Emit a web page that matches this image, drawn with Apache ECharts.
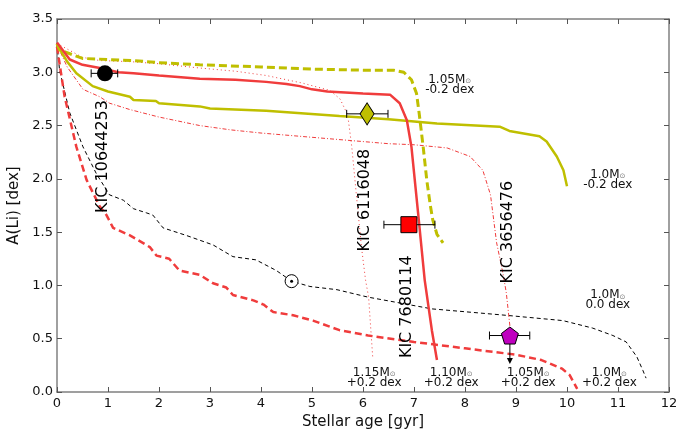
<!DOCTYPE html>
<html>
<head>
<meta charset="utf-8">
<script src="https://cdn.jsdelivr.net/npm/echarts@6/dist/echarts.min.js"></script>
<style>
  html, body { margin: 0; padding: 0; background: #fff; }
  #chart { width: 677px; height: 430px; }
</style>
</head>
<body>
<div id="chart"></div>
<script>
// lithium tracks [age gyr, A(Li)]
var yel105m02 = [[0,3.27],[0.05,3.21],[0.5,3.13],[1.0,3.12],[1.5,3.11],[2,3.09],[2.8,3.07],[4,3.05],[5,3.03],[6,3.02],[6.6,3.02],[6.8,3.0],[6.95,2.93],[7.05,2.8],[7.1,2.62],[7.18,2.3],[7.25,1.99],[7.32,1.75],[7.37,1.61],[7.45,1.48],[7.57,1.40]];
var yel100m02 = [[0,3.26],[0.2,3.1],[0.38,2.99],[0.7,2.87],[1.0,2.82],[1.43,2.77],[1.5,2.74],[1.94,2.73],[2.0,2.71],[2.8,2.68],[3,2.66],[4.1,2.64],[5.54,2.59],[6.5,2.56],[7.45,2.52],[8.68,2.49],[8.87,2.45],[9.46,2.40],[9.6,2.35],[9.8,2.21],[9.93,2.08],[10.0,1.93]];
var red115p02 = [[0,3.27],[0.5,3.14],[0.84,3.11],[1.43,3.10],[2,3.08],[2.8,3.04],[3.5,3.01],[4.1,2.97],[4.8,2.9],[5.35,2.83],[5.55,2.75],[5.7,2.6],[5.78,2.30],[5.88,1.8],[5.97,1.36],[6.05,1.05],[6.11,0.89],[6.19,0.33]];
var red110p02 = [[0,3.28],[0.25,3.12],[0.5,3.07],[0.84,3.04],[1.2,3.0],[1.5,2.99],[2,2.97],[2.8,2.94],[3.5,2.93],[4.1,2.91],[4.5,2.89],[4.76,2.87],[5.0,2.84],[5.3,2.82],[6.0,2.80],[6.53,2.79],[6.72,2.71],[6.86,2.55],[6.95,2.3],[7.08,1.68],[7.21,1.05],[7.35,0.58],[7.45,0.3]];
var red105p02 = [[0,3.26],[0.2,3.05],[0.51,2.84],[0.84,2.77],[1.03,2.71],[1.43,2.65],[2.0,2.58],[2.8,2.5],[3.4,2.46],[4.0,2.43],[5.0,2.39],[5.5,2.37],[6.5,2.33],[7.0,2.32],[7.65,2.29],[8.1,2.21],[8.35,2.08],[8.5,1.85],[8.62,1.4],[8.75,1.1],[8.81,0.93],[8.88,0.62]];
var red100p02 = [[0,3.24],[0.15,2.77],[0.38,2.30],[0.58,1.99],[0.84,1.74],[0.97,1.66],[1.1,1.54],[1.43,1.47],[1.82,1.36],[1.95,1.28],[2.2,1.25],[2.4,1.14],[2.8,1.10],[3.06,1.02],[3.32,0.98],[3.45,0.91],[3.85,0.86],[4.05,0.82],[4.24,0.75],[4.63,0.72],[5.02,0.67],[5.54,0.58],[6.1,0.53],[7.0,0.47],[8.0,0.41],[9.0,0.35],[9.5,0.30],[9.9,0.22],[10.05,0.16],[10.2,0.03]];
var blk100p00 = [[0,3.27],[0.05,3.02],[0.25,2.62],[0.51,2.30],[0.77,2.05],[1.03,1.85],[1.3,1.8],[1.5,1.72],[1.76,1.68],[1.88,1.66],[2.08,1.54],[2.53,1.47],[3.06,1.38],[3.45,1.27],[3.9,1.24],[4.3,1.14],[4.6,1.04],[4.96,0.99],[5.49,0.96],[6.1,0.89],[7.35,0.78],[8.8,0.72],[9.92,0.67],[10.5,0.6],[10.9,0.53],[11.16,0.47],[11.37,0.33],[11.49,0.2],[11.55,0.13]];

// stars: name, age, A(Li), age low, age high
var starNames = ['KIC 10644253', 'KIC 6116048', 'KIC 7680114', 'KIC 3656476'];
var starAge = [0.94, 6.08, 6.9, 8.88];
var starLi = [2.99, 2.61, 1.57, 0.53];
var starAgeLo = [0.67, 5.68, 6.41, 8.48];
var starAgeHi = [1.19, 6.49, 7.41, 9.27];
var starLabelPos = [[0.90, 2.21], [6.03, 1.80], [6.86, 0.80], [8.84, 1.50]];
var upperLimitEnd = 0.29; // KIC 3656476 is an upper limit

var sunPoint = [4.6, 1.04];

// track labels: [age, A(Li), mass, [Fe/H]]
var trackLabels = [
  [7.70, 2.88, '1.05M', '-0.2 dex'],
  [10.8, 1.99, '1.0M', '-0.2 dex'],
  [10.8, 0.86, '1.0M', '0.0 dex'],
  [6.22, 0.13, '1.15M', '+0.2 dex'],
  [7.73, 0.13, '1.10M', '+0.2 dex'],
  [9.24, 0.13, '1.05M', '+0.2 dex'],
  [10.83, 0.13, '1.0M', '+0.2 dex']
];

var font = 'DejaVu Sans';
var YEL = '#bfbf00';
var RED = '#f03c3c';

function track(data, color, width, type, z) {
  return {
    type: 'line', data: data, showSymbol: false, symbol: 'none', silent: true, z: z || 2,
    lineStyle: { color: color, width: width, type: type }
  };
}

var chart = echarts.init(document.getElementById('chart'));

var axisCommon = {
  axisLine: { show: true, onZero: false, lineStyle: { color: '#808080', width: 1.5 } },
  axisTick: { show: true, inside: true, length: 5, lineStyle: { color: '#555', width: 1 } },
  splitLine: { show: false }
};

chart.setOption({
  backgroundColor: '#fff',
  animation: false,
  grid: { left: 57, right: 8, top: 19, bottom: 38, outerBoundsMode: 'none', containLabel: false },
  xAxis: [
    Object.assign({
      type: 'value', min: 0, max: 12, interval: 1, position: 'bottom',
      name: 'Stellar age [gyr]', nameLocation: 'middle', nameGap: 17,
      nameTextStyle: { fontFamily: font, fontSize: 15, color: '#111' },
      axisLabel: { fontFamily: font, fontSize: 13, color: '#111', margin: 5 }
    }, axisCommon),
    Object.assign({
      type: 'value', min: 0, max: 12, interval: 1, position: 'top',
      axisLabel: { show: false }
    }, axisCommon)
  ],
  yAxis: [
    Object.assign({
      type: 'value', min: 0, max: 3.5, interval: 0.5, position: 'left',
      name: 'A(Li) [dex]', nameLocation: 'middle', nameGap: 33,
      nameTextStyle: { fontFamily: font, fontSize: 15, color: '#111' },
      axisLabel: { fontFamily: font, fontSize: 13, color: '#111', margin: 4,
        formatter: function (v) { return v.toFixed(1); } }
    }, axisCommon),
    Object.assign({
      type: 'value', min: 0, max: 3.5, interval: 0.5, position: 'right',
      axisLabel: { show: false }
    }, axisCommon)
  ],
  series: [
    track(blk100p00, '#000', 1, [4, 3], 1),
    track(red115p02, RED, 1, [1, 3], 1),
    track(red105p02, RED, 1, [4, 2, 1, 2], 1),
    track(red100p02, RED, 2.5, [7, 4], 2),
    track(yel100m02, YEL, 2.5, 'solid', 2),
    track(yel105m02, YEL, 3, [8, 4], 3),
    track(red110p02, RED, 2.5, 'solid', 3),
    {
      // error bars
      type: 'custom', z: 5, silent: true,
      data: starAge.map(function (a, i) { return [a, starLi[i], starAgeLo[i], starAgeHi[i]]; }),
      renderItem: function (params, api) {
        var y = api.value(1);
        var p1 = api.coord([api.value(2), y]);
        var p2 = api.coord([api.value(3), y]);
        var st = { stroke: '#000', lineWidth: 1 };
        return { type: 'group', children: [
          { type: 'line', shape: { x1: p1[0], y1: p1[1], x2: p2[0], y2: p2[1] }, style: st },
          { type: 'line', shape: { x1: p1[0], y1: p1[1] - 4, x2: p1[0], y2: p1[1] + 4 }, style: st },
          { type: 'line', shape: { x1: p2[0], y1: p2[1] - 4, x2: p2[0], y2: p2[1] + 4 }, style: st }
        ] };
      }
    },
    {
      // upper limit arrow
      type: 'line', z: 5, silent: true,
      data: [
        { value: [starAge[3], starLi[3]], symbol: 'none' },
        { value: [starAge[3], upperLimitEnd], symbol: 'triangle', symbolSize: [6, 6], symbolRotate: 180 }
      ],
      showSymbol: true,
      itemStyle: { color: '#000' },
      lineStyle: { color: '#000', width: 1 }
    },
    {
      type: 'scatter', z: 6, silent: true,
      itemStyle: { opacity: 1 },
      data: [
        { value: [starAge[0], starLi[0]], symbol: 'circle', symbolSize: 16, itemStyle: { color: '#000', opacity: 1 } },
        { value: [starAge[1], starLi[1]], symbol: 'diamond', symbolSize: [14, 22], itemStyle: { color: YEL, borderColor: '#000', borderWidth: 1, opacity: 1 } },
        { value: [starAge[2], starLi[2]], symbol: 'rect', symbolSize: 16, itemStyle: { color: '#ff0000', borderColor: '#000', borderWidth: 1, opacity: 1 } },
        { value: [starAge[3], starLi[3]], symbol: 'path://M0,-1 L0.951,-0.309 L0.588,0.809 L-0.588,0.809 L-0.951,-0.309 Z', symbolSize: 17, itemStyle: { color: '#bf00bf', borderColor: '#000', borderWidth: 1, opacity: 1 } }
      ]
    },
    {
      // sun
      type: 'scatter', z: 6, silent: true,
      itemStyle: { opacity: 1 },
      data: [
        { value: sunPoint, symbol: 'circle', symbolSize: 13, itemStyle: { color: '#fff', borderColor: '#000', borderWidth: 1 } },
        { value: sunPoint, symbol: 'circle', symbolSize: 3, itemStyle: { color: '#000' } }
      ]
    },
    {
      // star names
      type: 'scatter', z: 7, silent: true, symbolSize: 0,
      itemStyle: { opacity: 1 },
      data: starLabelPos.map(function (p, i) { return { value: p, name: starNames[i] }; }),
      label: {
        show: true, position: 'inside', rotate: 90, opacity: 1,
        formatter: function (p) { return p.name; },
        fontFamily: font, fontSize: 16, color: '#000'
      }
    },
    {
      // track labels
      type: 'scatter', z: 7, silent: true, symbolSize: 0,
      itemStyle: { opacity: 1 },
      data: trackLabels.map(function (t) { return { value: [t[0], t[1]], mass: t[2], feh: t[3] }; }),
      label: {
        show: true, position: 'inside', align: 'center', lineHeight: 10, opacity: 1,
        formatter: function (p) {
          return '{a|' + p.data.mass + '}{s|\u2299}\n{a|' + p.data.feh + '}';
        },
        rich: {
          a: { fontFamily: font, fontSize: 12, color: '#111', lineHeight: 10 },
          s: { fontFamily: font, fontSize: 7, color: '#777', lineHeight: 10, verticalAlign: 'bottom' }
        }
      }
    }
  ]
});
</script>
</body>
</html>
